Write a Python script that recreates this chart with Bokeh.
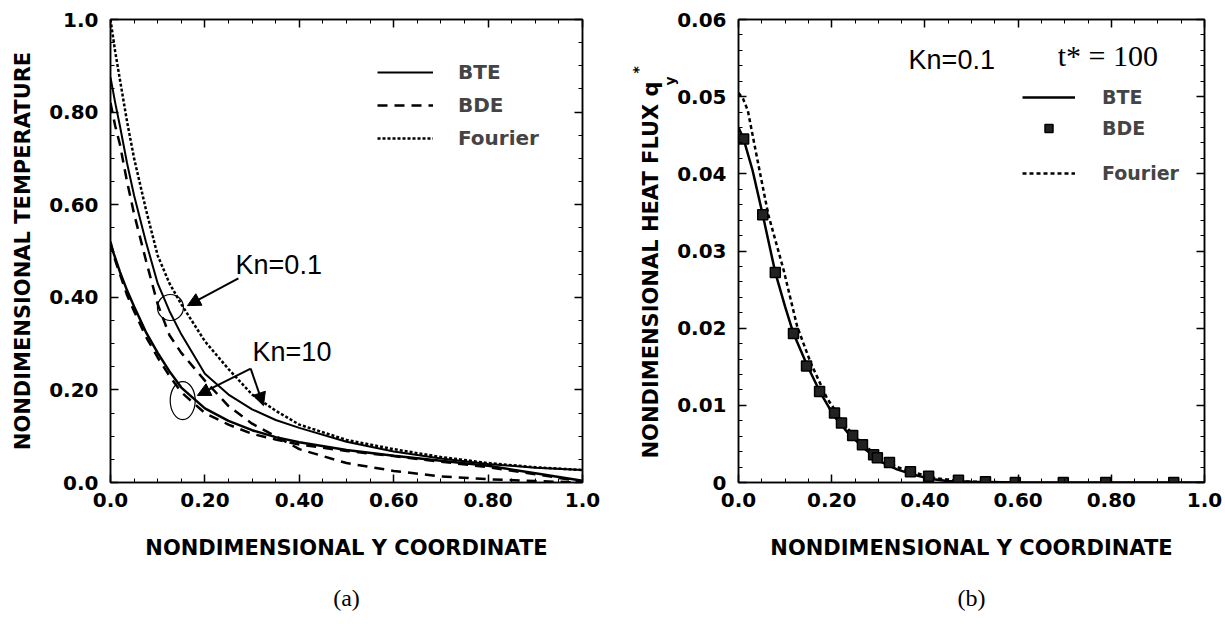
import math
from bokeh.plotting import figure
from bokeh.layouts import row
from bokeh.models import (LinearAxis, Range1d, Label, Arrow, NormalHead, FixedTicker,
                          Legend, LegendItem, CustomJSTickFormatter, Title)
from bokeh.embed import file_html
from bokeh.resources import INLINE

# ---------------- panel (a): nondimensional temperature ----------------
y_coord = [0.0, 0.01, 0.02, 0.035, 0.05, 0.075, 0.1, 0.125, 0.15, 0.2, 0.25, 0.3,
           0.35, 0.4, 0.5, 0.6, 0.7, 0.8, 0.9, 1.0]
temp_fourier = [1.0, 0.93, 0.87, 0.78, 0.70, 0.59, 0.49, 0.43, 0.385, 0.305, 0.245, 0.19,
                0.155, 0.125, 0.092, 0.072, 0.055, 0.042, 0.033, 0.027]
temp_bte_kn01 = [0.875, 0.82, 0.77, 0.69, 0.62, 0.52, 0.43, 0.37, 0.32, 0.235, 0.19, 0.158,
                 0.135, 0.118, 0.088, 0.067, 0.052, 0.040, 0.032, 0.027]
temp_bde_kn01 = [0.82, 0.77, 0.73, 0.65, 0.58, 0.48, 0.385, 0.318, 0.28, 0.22, 0.165, 0.127,
                 0.10, 0.072, 0.042, 0.025, 0.013, 0.007, 0.003, 0.0]
temp_bte_kn10 = [0.515, 0.485, 0.455, 0.415, 0.38, 0.325, 0.28, 0.24, 0.205, 0.16, 0.133, 0.113,
                 0.098, 0.087, 0.070, 0.058, 0.047, 0.036, 0.020, 0.004]
temp_bde_kn10 = [0.52, 0.48, 0.45, 0.405, 0.37, 0.315, 0.27, 0.23, 0.195, 0.15, 0.125, 0.105,
                 0.093, 0.082, 0.068, 0.057, 0.045, 0.033, 0.018, 0.002]

# ---------------- panel (b): nondimensional heat flux ----------------
flux_x_bte = [0.0, 0.011, 0.03, 0.052, 0.079, 0.1, 0.118, 0.148, 0.176, 0.204, 0.234, 0.268,
              0.305, 0.34, 0.376, 0.41, 0.448, 0.5, 0.6, 0.8, 1.0]
flux_bte = [0.046, 0.0445, 0.0405, 0.0347, 0.0272, 0.0228, 0.0193, 0.0151, 0.0116, 0.0087,
            0.0065, 0.0045, 0.0027, 0.0017, 0.0010, 0.0005, 0.0002, 0.0001, 0.0, 0.0, 0.0]
flux_x_fourier = [0.0, 0.01, 0.02, 0.04, 0.064, 0.097, 0.126, 0.155, 0.19, 0.234, 0.27, 0.305,
                  0.34, 0.376, 0.42, 0.47, 0.5, 0.6]
flux_fourier = [0.0505, 0.0497, 0.0482, 0.042, 0.0347, 0.0275, 0.0202, 0.0155, 0.0109, 0.0070,
                0.0048, 0.0032, 0.0020, 0.0013, 0.0006, 0.0002, 0.0001, 0.0]
flux_x_bde = [0.011, 0.052, 0.079, 0.118, 0.146, 0.174, 0.206, 0.221, 0.245, 0.266, 0.29,
              0.298, 0.324, 0.369, 0.408, 0.472, 0.53, 0.594, 0.697, 0.788, 0.934]
flux_bde = [0.0445, 0.0347, 0.0272, 0.0193, 0.0151, 0.0118, 0.0090, 0.0077, 0.0061, 0.0049,
            0.0036, 0.0032, 0.0026, 0.0014, 0.0008, 0.0003, 0.0001, 0.0, 0.0, 0.0, 0.0]

# ---------------- ticks ----------------
x_ticks = [0.0, 0.2, 0.4, 0.6, 0.8, 1.0]
x_tick_labels = ["0.0", "0.20", "0.40", "0.60", "0.80", "1.0"]
x_minor = [round(i * 0.05, 2) for i in range(21)]
a_y_ticks = [0.0, 0.2, 0.4, 0.6, 0.8, 1.0]
a_y_tick_labels = ["0.0", "0.20", "0.40", "0.60", "0.80", "1.0"]
a_y_minor = [round(i * 0.05, 2) for i in range(21)]
b_y_ticks = [0.0, 0.01, 0.02, 0.03, 0.04, 0.05, 0.06]
b_y_tick_labels = ["0", "0.01", "0.02", "0.03", "0.04", "0.05", "0.06"]
b_y_minor = [round(i * 0.002, 3) for i in range(31)]

BOLD = "DejaVu Sans"
SANS = "Liberation Sans"
SERIF = "Liberation Serif"
TICK_FS = "20px"
TITLE_FS = "21px"


def style_axis(ax, ticker, ticks=None, labels=None, hidden=False):
    ax.ticker = ticker
    ax.axis_line_color = "black"
    ax.axis_line_width = 1.5
    ax.major_tick_in = 8
    ax.major_tick_out = 0
    ax.minor_tick_in = 4
    ax.minor_tick_out = 0
    ax.major_tick_line_color = "black"
    ax.minor_tick_line_color = "black"
    ax.major_tick_line_width = 1.5
    ax.minor_tick_line_width = 1
    if hidden:
        ax.formatter = CustomJSTickFormatter(code="return ''")
        ax.major_label_text_font_size = "1px"
        ax.major_label_standoff = 0
    else:
        ax.major_label_overrides = dict(zip(ticks, labels))
        ax.major_label_text_font = BOLD
        ax.major_label_text_font_style = "bold"
        ax.major_label_text_font_size = TICK_FS
        ax.major_label_text_color = "black"
        ax.axis_label_text_font = BOLD
        ax.axis_label_text_font_style = "bold"
        ax.axis_label_text_font_size = TITLE_FS
        ax.axis_label_text_color = "black"


def make_fig(width, yr, border_left, border_right, border_bottom, xticks, xlabels, yticks, ylabels, yminor):
    p = figure(width=width, height=630, x_range=Range1d(0, 1), y_range=Range1d(*yr),
               output_backend="svg", toolbar_location=None,
               min_border_left=border_left, min_border_right=border_right,
               min_border_top=19, min_border_bottom=border_bottom)
    p.background_fill_color = "white"
    p.border_fill_color = "white"
    p.outline_line_color = "black"
    p.outline_line_width = 1.5
    p.xgrid.visible = False
    p.ygrid.visible = False
    bottom_ax = p.below[0]
    left_ax = p.left[0]
    style_axis(bottom_ax, FixedTicker(ticks=xticks, minor_ticks=x_minor), xticks, xlabels)
    style_axis(left_ax, FixedTicker(ticks=yticks, minor_ticks=yminor), yticks, ylabels)
    bottom_ax.major_label_standoff = 10
    left_ax.major_label_standoff = 12
    top = LinearAxis()
    style_axis(top, FixedTicker(ticks=xticks, minor_ticks=x_minor), hidden=True)
    p.add_layout(top, "above")
    right = LinearAxis()
    style_axis(right, FixedTicker(ticks=yticks, minor_ticks=yminor), hidden=True)
    p.add_layout(right, "right")
    return p, bottom_ax, left_ax


def text_label(**kw):
    base = dict(text_color="black")
    base.update(kw)
    return Label(**base)


def legend(items, loc, gw, standoff, spacing, fs):
    return Legend(items=items, location=loc, glyph_width=gw, glyph_height=20, label_height=20,
                  label_standoff=standoff, spacing=spacing, padding=0, margin=0,
                  border_line_color=None, background_fill_alpha=0,
                  label_text_font=BOLD, label_text_font_style="bold", label_text_font_size=fs)


# ======================= panel (a) =======================
pa, pa_x, pa_y = make_fig(612, (0, 1), 110, 30, 148, x_ticks, x_tick_labels,
                          a_y_ticks, a_y_tick_labels, a_y_minor)
pa_x.axis_label = "NONDIMENSIONAL Y COORDINATE"
pa_x.axis_label_standoff = 26
pa_y.axis_label = "NONDIMENSIONAL TEMPERATURE"
pa_y.axis_label_standoff = 11

r_four = pa.line(y_coord, temp_fourier, line_color="black", line_width=2.5, line_dash="3 2")
r_bte = pa.line(y_coord, temp_bte_kn01, line_color="black", line_width=2)
r_bde = pa.line(y_coord, temp_bde_kn01, line_color="black", line_width=2.5, line_dash="10 7")
pa.line(y_coord, temp_bte_kn10, line_color="black", line_width=2.5)
pa.line(y_coord, temp_bde_kn10, line_color="black", line_width=2.5, line_dash="10 7")

pa.add_layout(legend([LegendItem(label="BTE", renderers=[r_bte]),
                      LegendItem(label="BDE", renderers=[r_bde]),
                      LegendItem(label="Fourier", renderers=[r_four])],
                     (267, 332), 56, 25, 9, "20px"))

# annotations: circles, arrows, Kn labels
pa.ellipse(x=[0.127], y=[0.378], width=26, height=26, width_units="screen", height_units="screen",
           fill_color=None, line_color="black", line_width=1.2)
pa.ellipse(x=[0.153], y=[0.177], width=25, height=38, width_units="screen", height_units="screen",
           fill_color=None, line_color="black", line_width=1.2)
for xs, ys, xe, ye in [(0.271, 0.441, 0.163, 0.382), (0.297, 0.246, 0.184, 0.188),
                       (0.297, 0.246, 0.324, 0.166)]:
    pa.add_layout(Arrow(end=NormalHead(size=13, fill_color="black", line_color="black"),
                        x_start=xs, y_start=ys, x_end=xe, y_end=ye,
                        line_color="black", line_width=2))
pa.add_layout(text_label(x=0.265, y=0.469, text="Kn=0.1", text_font=SANS, text_font_size="27px",
                         text_baseline="alphabetic"))
pa.add_layout(text_label(x=0.301, y=0.281, text="Kn=10", text_font=SANS, text_font_size="27px",
                         text_baseline="alphabetic"))
pa.add_layout(Title(text="(a)", align="center", text_font=SERIF, text_font_size="24px",
                    text_font_style="normal", text_color="black", standoff=40), "below")

# ======================= panel (b) =======================
pb, pb_x, pb_y = make_fig(613, (0, 0.06), 126, 21, 142, x_ticks, x_tick_labels,
                          b_y_ticks, b_y_tick_labels, b_y_minor)
pb_x.axis_label = "NONDIMENSIONAL Y COORDINATE"
pb_x.axis_label_standoff = 26

rb_bte = pb.line(flux_x_bte, flux_bte, line_color="black", line_width=2.5)
rb_four = pb.line(flux_x_fourier, flux_fourier, line_color="black", line_width=2.5, line_dash="4 3")
rb_bde = pb.scatter(flux_x_bde, flux_bde, marker="square", size=10, fill_color="#222222",
                    line_color="black", line_width=1.5)

pb.add_layout(legend([LegendItem(label="BTE", renderers=[rb_bte]),
                      LegendItem(label="BDE", renderers=[rb_bde])],
                     (284, 343), 53, 27, 9, "19px"))
pb.add_layout(legend([LegendItem(label="Fourier", renderers=[rb_four])],
                     (284, 298), 53, 27, 9, "19px"))

pb.add_layout(text_label(x=0.365, y=0.0547, text="Kn=0.1", text_font=SANS, text_font_size="27px",
                         text_baseline="alphabetic"))
pb.add_layout(text_label(x=0.685, y=0.0553, text="t* = 100", text_font=SERIF, text_font_size="30px",
                         text_baseline="alphabetic"))
# y-axis title: subscript "y" (inner), main text, superscript "*" (outer)
pb.add_layout(Title(text="y", align="left", offset=397, standoff=-6,
                    text_font=BOLD, text_font_style="bold", text_font_size="14px",
                    text_color="black"), "left")
pb.add_layout(Title(text="NONDIMENSIONAL HEAT FLUX q", align="left", offset=24, standoff=0,
                    text_font=BOLD, text_font_style="bold", text_font_size=TITLE_FS,
                    text_color="black"), "left")
pb.add_layout(Title(text="*", align="left", offset=409, standoff=-19,
                    text_font=BOLD, text_font_style="bold", text_font_size="14px",
                    text_color="black"), "left")
pb.add_layout(Title(text="(b)", align="center", text_font=SERIF, text_font_size="24px",
                    text_font_style="normal", text_color="black", standoff=40), "below")

layout = row(pa, pb)
open("out.html", "w").write(file_html(layout, INLINE))
